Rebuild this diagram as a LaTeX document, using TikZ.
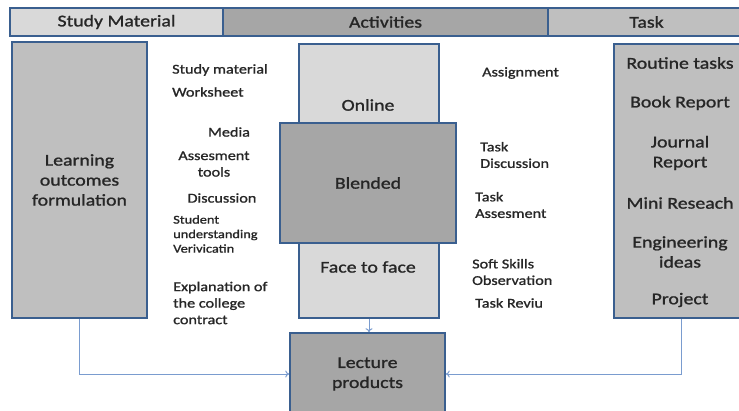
\documentclass[tikz,border=0pt]{standalone}
\usepackage{fontspec}
\setmainfont{Carlito}[FakeStretch=1.2, FakeBold=1.2]
\usepackage{tikz}
\usetikzlibrary{arrows.meta, positioning}
\definecolor{edge}{HTML}{3A5F8F}
\definecolor{link}{HTML}{7A9CCF}
\definecolor{pale}{HTML}{D9D9D9}
\definecolor{mid}{HTML}{BFBFBF}
\definecolor{dark}{HTML}{A6A6A6}
\definecolor{ink}{HTML}{262626}
\tikzstyle{bar} = [rectangle, draw=edge, line width=1.6pt, minimum height=28pt, inner sep=0pt, text=ink, font=\fontsize{16.5}{20}\selectfont]
\tikzstyle{panel} = [rectangle, draw=edge, line width=1.6pt, inner sep=0pt, text=ink, align=center, font=\fontsize{16.5}{20}\selectfont]
\tikzstyle{item} = [inner sep=0pt, text=ink, align=center, font=\fontsize{16.5}{20}\selectfont]
\tikzstyle{lbl} = [inner sep=0pt, text=ink, align=left, font=\fontsize{13.5}{16.5}\selectfont]
\tikzstyle{lblsmall} = [inner sep=0pt, text=ink, align=left, font=\fontsize{12}{14.5}\selectfont]
\tikzstyle{arrow} = [draw=link, line width=1pt, -{To[length=4pt,width=7pt]}]

\begin{document}
\begin{tikzpicture}[x=1pt, y=-1pt]
\useasboundingbox (0,0) rectangle (739,410);
\clip (0,0) rectangle (739,410);
% header bars
\node (hstudy) [bar, fill=pale, minimum width=213pt] at (116.5,22) {Study Material};
\node (hact) [bar, fill=dark, minimum width=325pt] at (385.5,22) {Activities};
\node (htask) [bar, fill=mid, minimum width=197pt] at (646.5,22) {Task};

% main boxes
\node (outcomes) [panel, fill=mid, minimum width=135pt, minimum height=276pt] at (79.5,180) {Learning\\outcomes\\formulation};
\node (actbox) [panel, fill=pale, minimum width=140pt, minimum height=274pt] at (369,181) {};
\node (online) [item] at (368,105) {Online};
\node (blended) [panel, fill=dark, minimum width=176pt, minimum height=120pt] at (368,183) {Blended};
\node (facetoface) [item] at (368,267) {Face to face};
\node (task) [panel, fill=mid, minimum width=131pt, minimum height=274pt] at (679.5,181) {};
\node (lecture) [panel, fill=dark, minimum width=155pt, minimum height=82pt] at (367.5,374) {Lecture\\products};

% task items
\node (routine) [item] at (680,63) {Routine tasks};
\node (book) [item] at (680,103) {Book Report};
\node (journal) [item] at (680,153) {Journal\\Report};
\node (mini) [item] at (680,203) {Mini Reseach};
\node (engineering) [item] at (680,252) {Engineering\\ideas};
\node (project) [item] at (680,300) {Project};

% study material labels
\node (studymat) [lbl, anchor=west] at (172,70) {Study material};
\node (worksheet) [lbl, anchor=west] at (172,92) {Worksheet};
\node (media) [lbl] at (229,132) {Media};
\node (assesstools) [lbl, align=center] at (214,164) {Assesment\\tools};
\node (discussion) [lbl] at (222,198) {Discussion};
\node (verify) [lblsmall, anchor=west] at (173,234) {Student\\understanding\\Verivicatin};
\node (contract) [lbl, anchor=west] at (173,303) {Explanation of\\the college\\contract};

% activity labels
\node (assignment) [lbl, anchor=west] at (482,73) {Assignment};
\node (taskdisc) [lbl, anchor=west] at (480,155) {Task\\Discussion};
\node (taskassess) [lbl, anchor=west] at (475,205) {Task\\Assesment};
\node (softskills) [lbl, anchor=west] at (472,272) {Soft Skills\\Observation};
\node (review) [lbl, anchor=west] at (475,303) {Task Reviu};

\draw[arrow] (outcomes.south) |- (lecture.west);
\draw[arrow] (task.south) ++(2,0) |- (lecture.east);
\draw[arrow] (actbox.south) -- (actbox.south |- lecture.north);
\end{tikzpicture}
\end{document}
